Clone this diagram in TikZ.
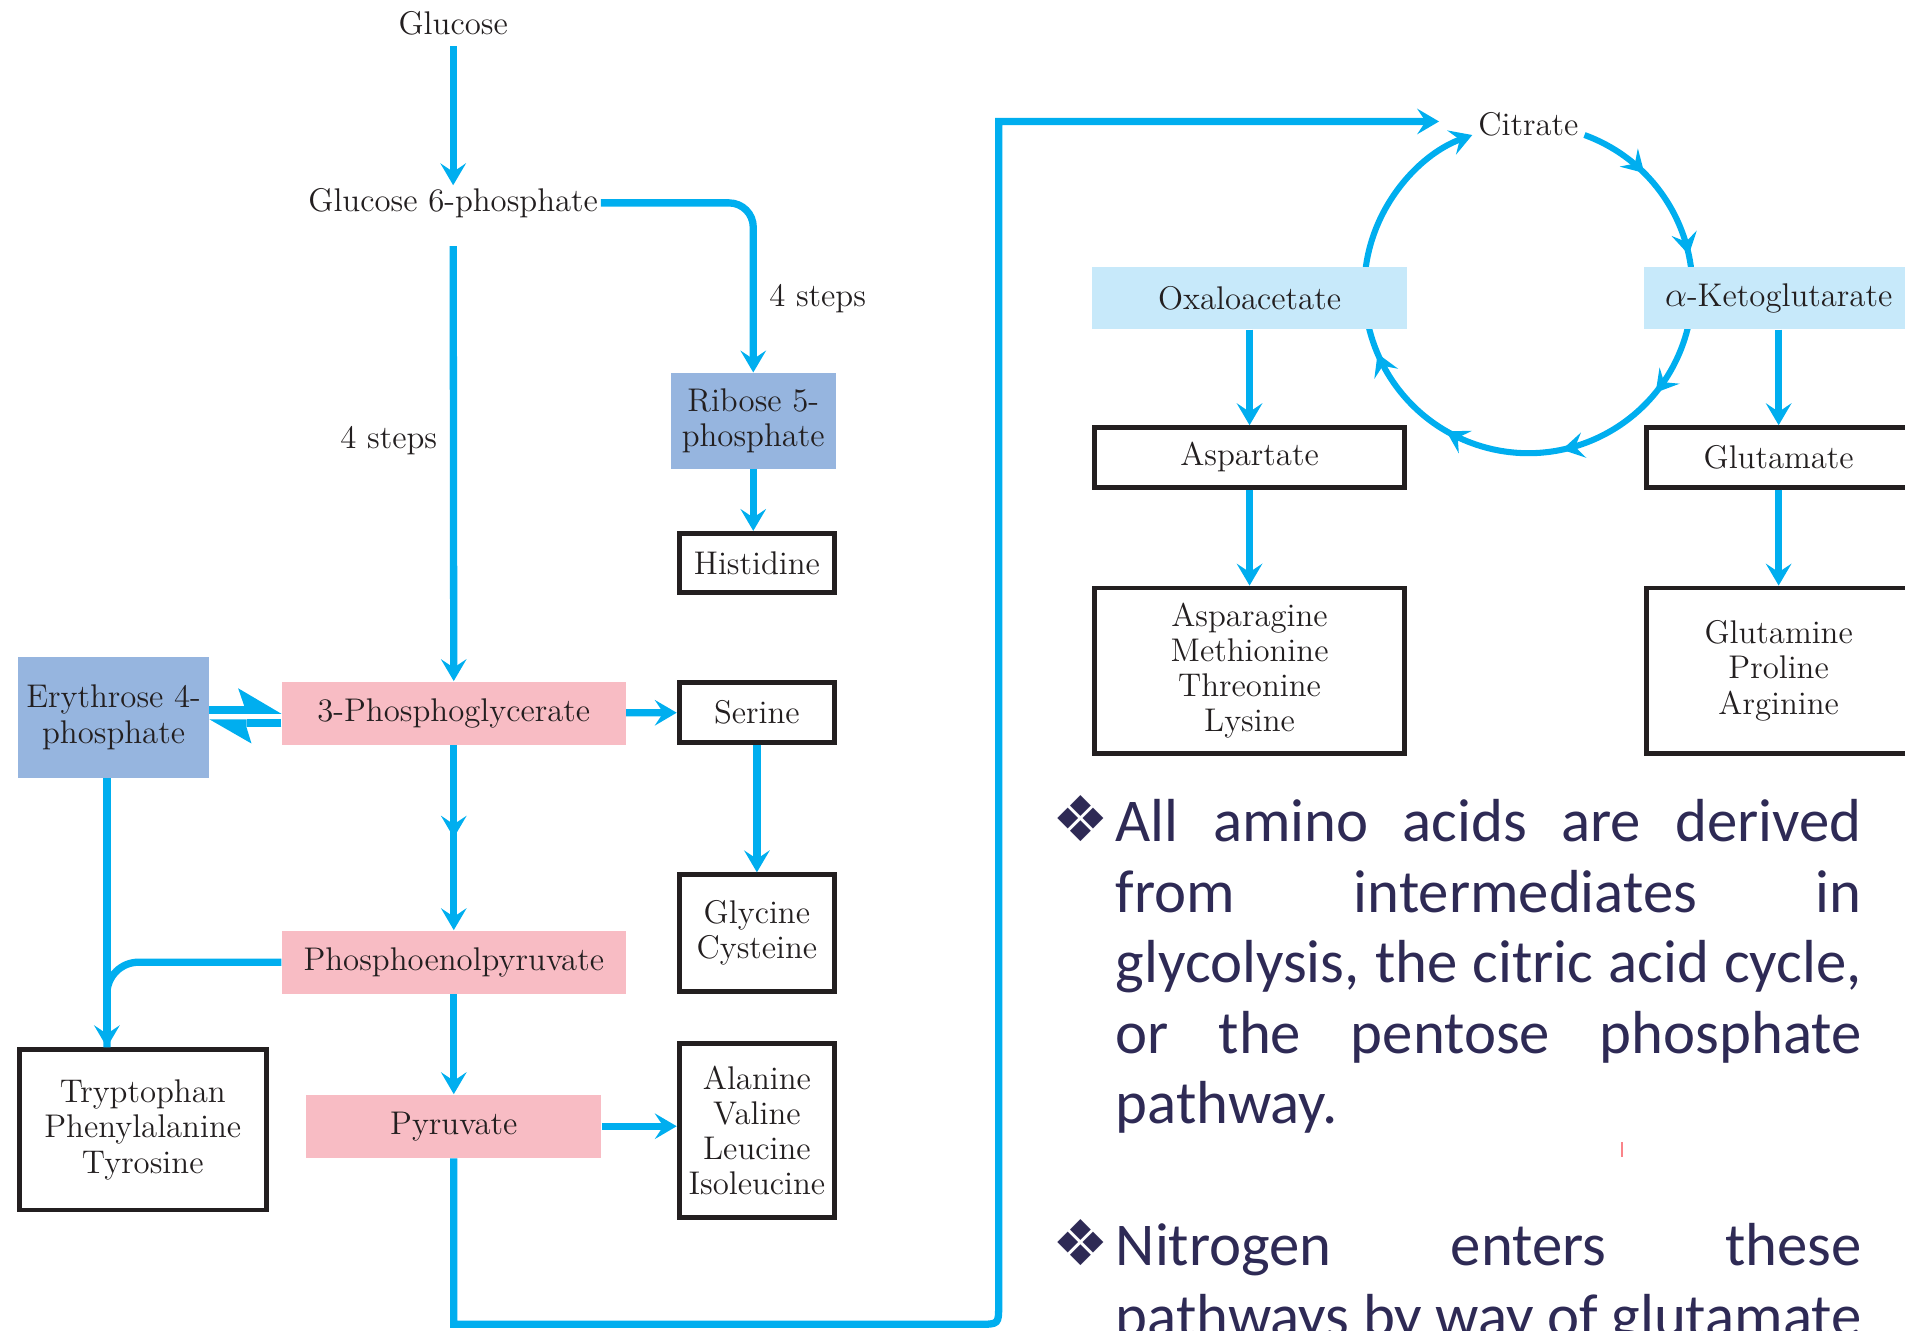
\documentclass[tikz,border=0pt]{standalone}
\usepackage{fontspec}
\usetikzlibrary{arrows.meta,decorations.markings}
\newfontfamily\notefont{Carlito}
\newfontfamily\dingfont{DejaVu Sans}
\definecolor{cian}{RGB}{0,174,239}
\definecolor{rosa}{RGB}{248,188,196}
\definecolor{azulmedio}{RGB}{150,181,223}
\definecolor{celeste}{RGB}{199,233,250}
\definecolor{tinta}{RGB}{35,31,32}
\definecolor{marino}{RGB}{46,42,85}

\begin{document}
\begin{tikzpicture}[x=0.5pt, y=-0.5pt,
    >={Stealth[length=9pt,width=10.5pt,inset=3.5pt]},
    font=\fontsize{13.5}{14.5}\selectfont, text=tinta,
    caja/.style={draw=tinta, line width=2pt, align=center, inner sep=1pt},
    glic/.style={fill=rosa, align=center, inner sep=1pt},
    azul/.style={fill=azulmedio, align=center, inner sep=1pt},
    ciclo/.style={fill=celeste, align=center, inner sep=1pt},
    flecha/.style={cian, line width=3pt, ->},
    medio/.style={postaction={decorate, decoration={markings,
        mark=at position #1 with {\arrow{>}}}}},
    medio/.default=0.5,
    vineta/.style={inner sep=0pt, text=marino, font=\dingfont\fontsize{26}{26}\selectfont},
    linea/.style={anchor=base west, inner sep=0pt, text=marino,
        font=\notefont\fontsize{25}{29}\selectfont}]
    \useasboundingbox (0,0) rectangle (1568,1095);
    \clip (0,0) rectangle (1568,1095);

    % Ciclo del acido citrico
    \coordinate (tca) at (1258,238);
    \draw[cian, line width=2.5pt, ->, postaction={decorate},
        decoration={markings,
            mark=at position 0.078 with {\arrow{>}},
            mark=at position 0.181 with {\arrow{>}},
            mark=at position 0.341 with {\arrow{>}},
            mark=at position 0.463 with {\arrow{>}},
            mark=at position 0.594 with {\arrow{>}},
            mark=at position 0.709 with {\arrow{>}}}]
        ([shift={(-70:135)}]tca) arc[start angle=-70, end angle=250, radius=135];

    % Glucolisis
    \node[inner sep=1pt] (glc) at (373,19) {Glucose};
    \node[inner sep=1pt] (g6p) at (373,167) {Glucose 6-phosphate};
    \node[glic, minimum width=141.5pt, minimum height=26pt] (pg3) at (373.5,587) {3-Phosphoglycerate};
    \node[glic, minimum width=141.5pt, minimum height=26pt] (pep) at (373.5,792) {Phosphoenolpyruvate};
    \node[glic, minimum width=121.5pt, minimum height=26pt] (pyr) at (373.5,927) {Pyruvate};
    \node (pasos1) at (320,363) {4 steps};

    % Via de las pentosas
    \node[azul, minimum width=68pt, minimum height=39.5pt] (rib) at (620,346.5) {Ribose 5-\\phosphate};
    \node[azul, minimum width=78.5pt, minimum height=49.5pt] (e4p) at (93.5,590.5) {Erythrose 4-\\phosphate};
    \node (pasos2) at (673,246) {4 steps};

    % Aminoacidos
    \node[caja, minimum width=64pt, minimum height=24.5pt] (his) at (623,463.5) {Histidine};
    \node[caja, minimum width=64pt, minimum height=24.5pt] (ser) at (623,586.5) {Serine};
    \node[caja, minimum width=64pt, minimum height=48pt] (gly) at (623,768) {Glycine\\Cysteine};
    \node[caja, minimum width=64pt, minimum height=71.5pt] (ala) at (623,930.5) {Alanine\\Valine\\Leucine\\Isoleucine};
    \node[caja, minimum width=101.5pt, minimum height=66pt] (trp) at (117.5,930) {Tryptophan\\Phenylalanine\\Tyrosine};

    % Intermedios del ciclo
    \node[inner sep=1pt] (cit) at (1258,102) {Citrate};
    \node[ciclo, minimum width=129.5pt, minimum height=25.5pt] (oaa) at (1028.5,245.5) {Oxaloacetate};
    \node[ciclo, minimum width=111pt, minimum height=25.5pt] (akg) at (1464,245.5) {$\alpha$-Ketoglutarate};
    \node[caja, minimum width=127.5pt, minimum height=24.5pt] (asp) at (1028.5,376.5) {Aspartate};
    \node[caja, minimum width=127.5pt, minimum height=68pt] (asn) at (1028.5,552) {Asparagine\\Methionine\\Threonine\\Lysine};
    \node[caja, minimum width=109pt, minimum height=24.5pt] (glu) at (1464,376.5) {Glutamate};
    \node[caja, minimum width=109pt, minimum height=68pt] (gln) at (1464,552) {Glutamine\\Proline\\Arginine};

    % Flechas
    \draw[flecha, shorten <=3.5pt] (glc) -- (g6p);
    \draw[flecha, shorten <=10.5pt] (g6p) -- (pg3);
    \draw[flecha, rounded corners=10pt] (g6p.east) -| (rib.north);
    \draw[flecha] (rib.south) -- (rib.south |- his.north);
    \draw[flecha] (pg3) -- (ser);
    \draw[flecha] (ser) -- (gly);
    \draw[flecha, medio] (pg3) -- (pep);
    \draw[flecha] (pep) -- (pyr);
    \draw[flecha] (pyr.east) -- (pyr.east -| ala.west);
    \draw[flecha] (e4p.south -| 88,0) -- (trp.north -| 88,0);
    \draw[cian, line width=3pt, rounded corners=13pt] (pep.west) -| (trp.north -| 88,0);
    \draw[flecha, shorten >=15pt] (pyr.south) -- (pyr.south |- 0,1090) -- (806,1090)
        .. controls (822,1090) .. (822,1074) -- (822,100) -- (cit.west |- 0,100);
    \draw[flecha] (oaa) -- (asp);
    \draw[flecha] (asp) -- (asn);
    \draw[flecha] (akg) -- (glu);
    \draw[flecha] (glu) -- (gln);

    % Flechas reversibles (medias puntas)
    \draw[cian, line width=3.2pt] (e4p.east |- 0,584.3) -- (201,584.3);
    \fill[cian] (pg3.west |- 0,587.5) -- (196,566.5) -- (201,581) -- (201,587.5) -- cycle;
    \draw[cian, line width=3.2pt] (pg3.west |- 0,595.3) -- (203,595.3);
    \fill[cian] (e4p.east |- 0,592.1) -- (207,612) -- (203,599) -- (203,592.1) -- cycle;

    % Texto de las vinetas
    \node[vineta] (vin1) at (890,674) {❖};
    \node[linea] (t1) at (918,693) {\makebox[307pt][s]{All amino acids are derived}};
    \node[linea] (t2) at (918,751) {\makebox[307pt][s]{from intermediates in}};
    \node[linea] (t3) at (918,809) {\makebox[307pt][s]{glycolysis, the citric acid cycle,}};
    \node[linea] (t4) at (918,867) {\makebox[307pt][s]{or the pentose phosphate}};
    \node[linea] (t5) at (918,925) {pathway.};
    \draw[rosa!70!red, line width=0.6pt] (1335,940) -- (1335,952);
    \node[vineta] (vin2) at (890,1023) {❖};
    \node[linea] (t6) at (918,1042) {\makebox[307pt][s]{Nitrogen enters these}};
    \node[linea] (t7) at (918,1100) {\makebox[307pt][s]{pathways by way of glutamate}};
\end{tikzpicture}
\end{document}
